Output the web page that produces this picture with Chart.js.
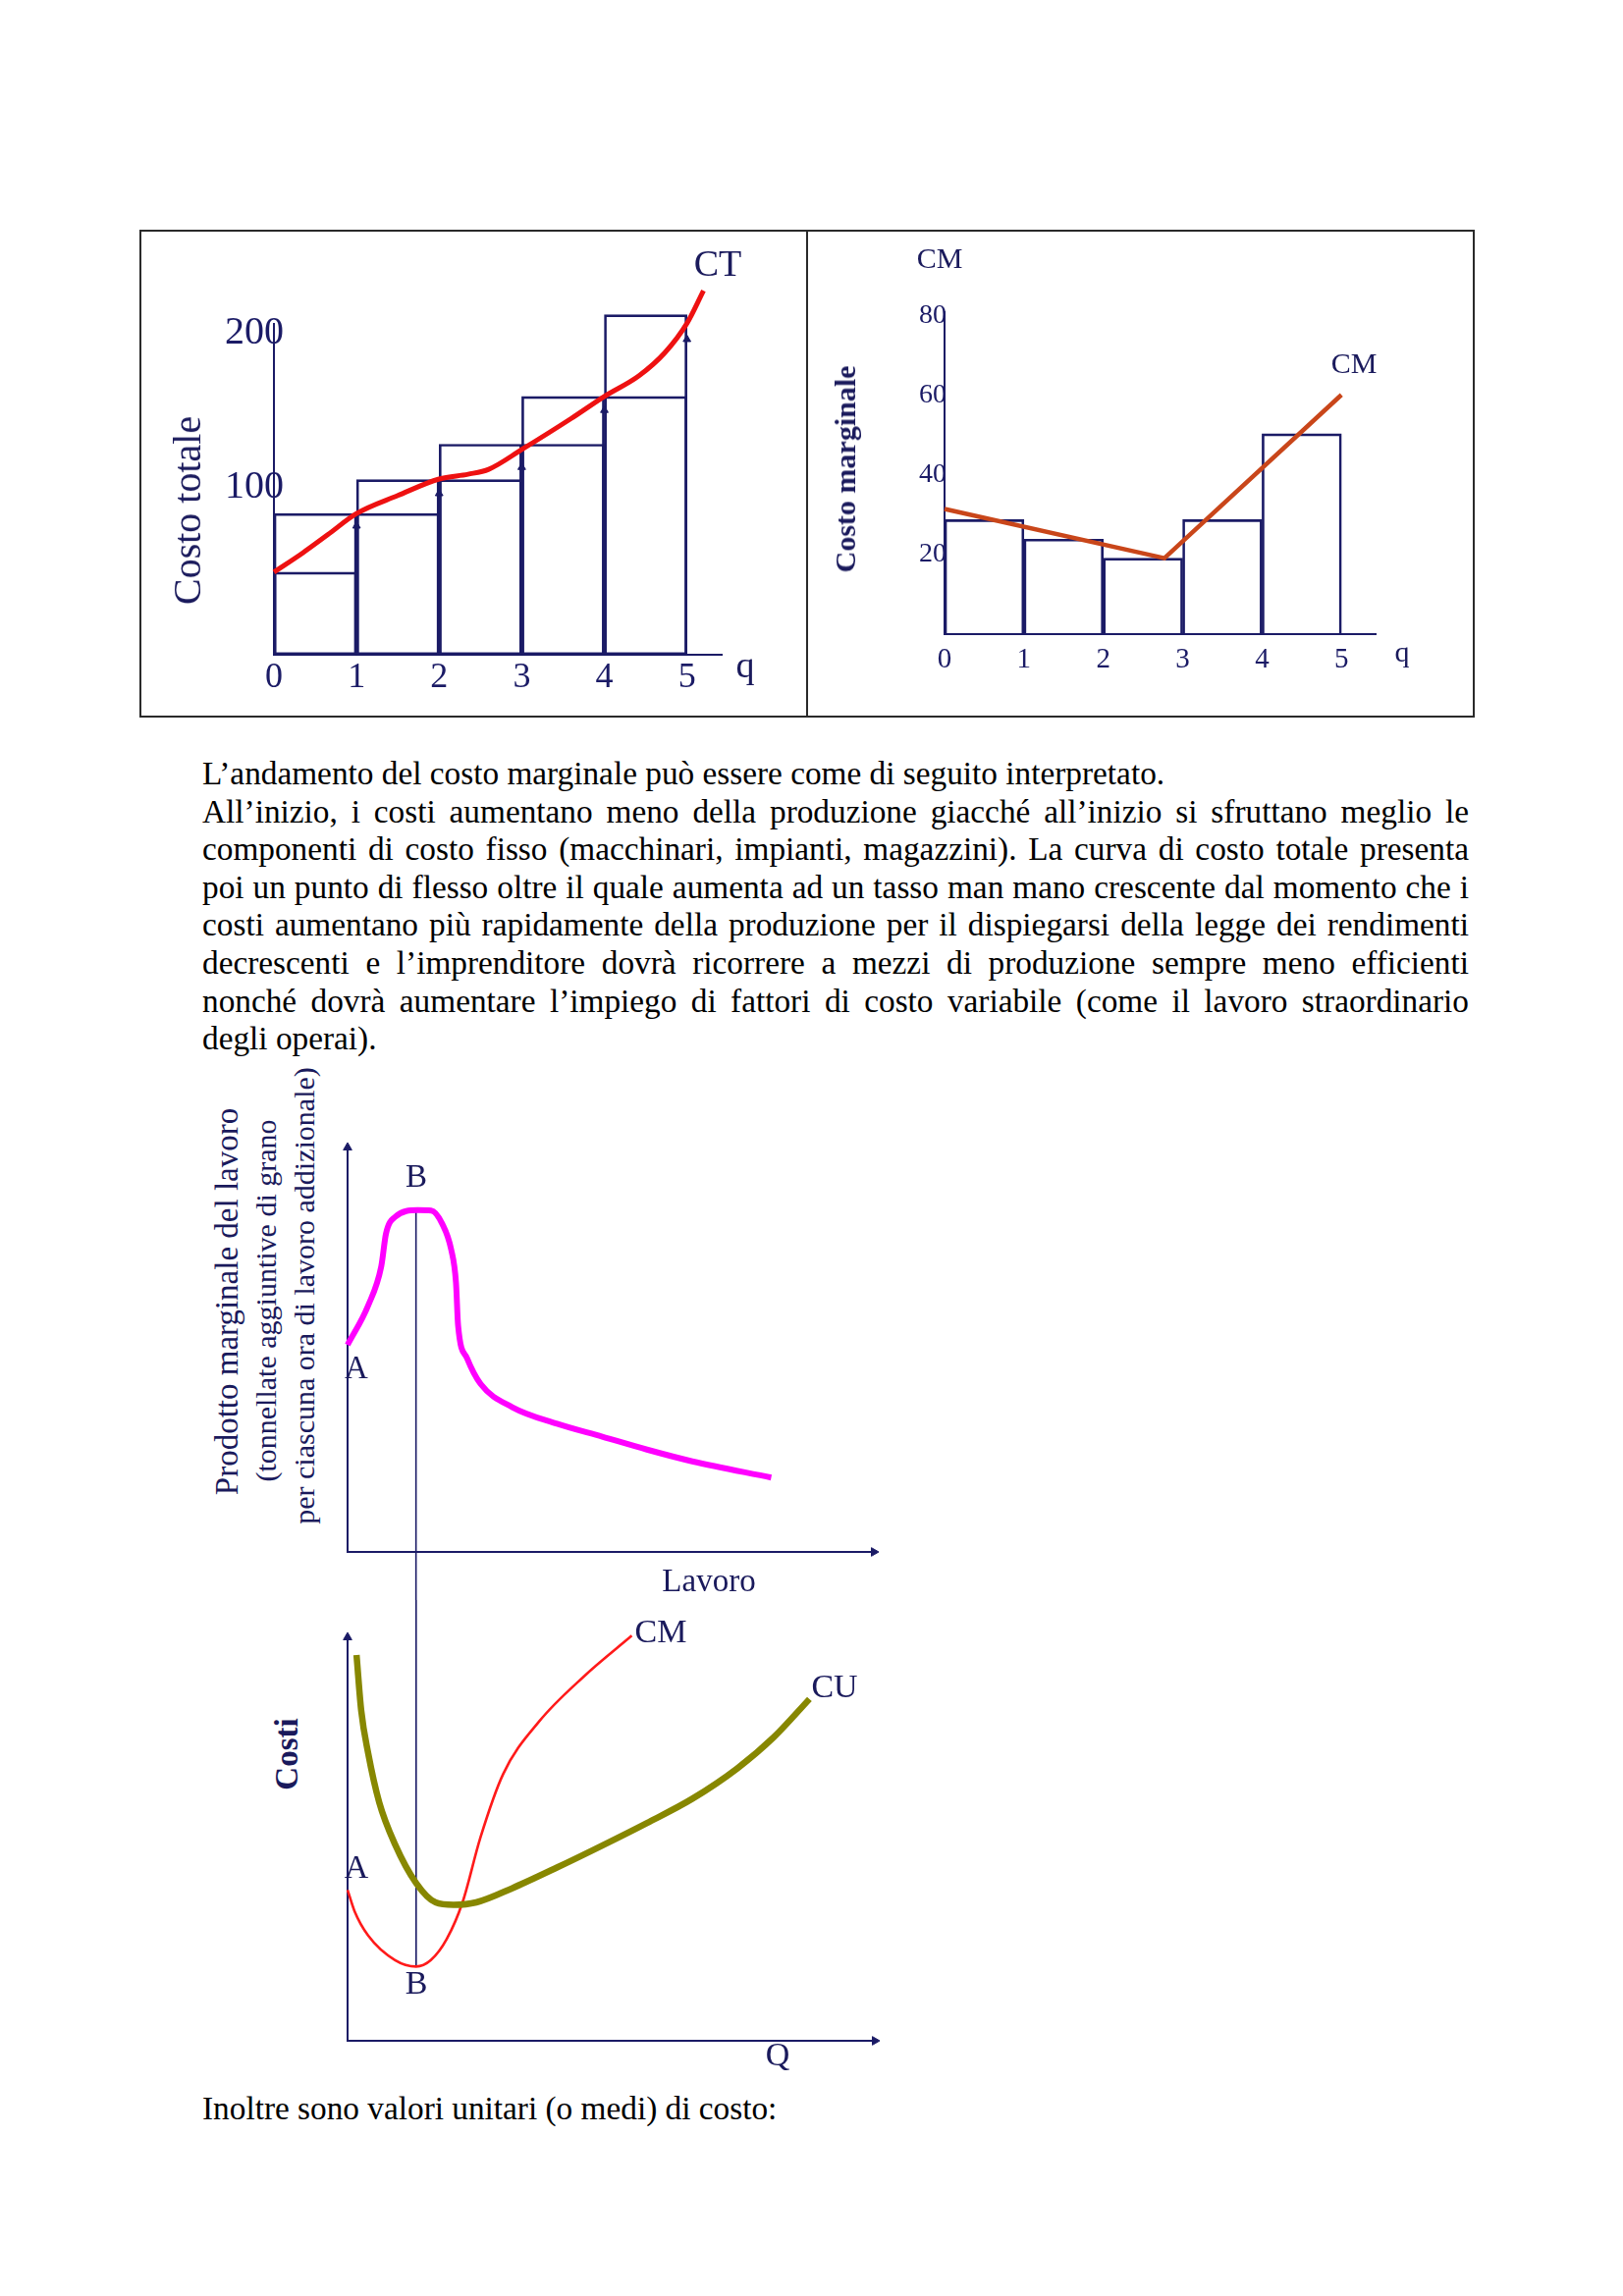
<!DOCTYPE html>
<html><head><meta charset="utf-8">
<script src="https://cdn.jsdelivr.net/npm/chart.js@4.4.1/dist/chart.umd.min.js"></script>
<style>
html,body{margin:0;padding:0;background:#fff;}
body{width:1653px;height:2339px;position:relative;overflow:hidden;font-family:"Liberation Serif","Times New Roman",serif;}
canvas{position:absolute;}
.lbl{position:absolute;transform:translate(-50%,-50%);white-space:nowrap;color:#1a1a5c;font-family:"Liberation Serif",serif;line-height:1;}
.rot{transform:translate(-50%,-50%) rotate(-90deg);}
.b{font-weight:bold;}
.boxline{position:absolute;background:#2a2a2a;}
.para{position:absolute;left:206px;width:1290px;font-size:33.3px;line-height:38.6px;color:#000;font-family:"Liberation Serif",serif;}
.para div{white-space:nowrap;}
.j{text-align:justify;text-align-last:justify;}
</style></head>
<body>
<div class="boxline" style="left:142px;top:234px;width:1360px;height:2px;"></div>
<div class="boxline" style="left:142px;top:729px;width:1360px;height:2px;"></div>
<div class="boxline" style="left:142px;top:234px;width:2px;height:497px;"></div>
<div class="boxline" style="left:1500px;top:234px;width:2px;height:497px;"></div>
<div class="boxline" style="left:821px;top:234px;width:2px;height:497px;"></div>

<canvas id="c1" width="678" height="493" style="left:143px;top:236px;width:678px;height:493px;"></canvas>
<canvas id="c2" width="677" height="493" style="left:823px;top:236px;width:677px;height:493px;"></canvas>
<canvas id="c3" width="580" height="480" style="left:330px;top:1150px;width:580px;height:480px;"></canvas>
<canvas id="c4" width="580" height="480" style="left:330px;top:1630px;width:580px;height:480px;"></canvas>

<div class="lbl rot" style="left:191px;top:520px;font-size:40px;">Costo totale</div>
<div class="lbl" style="left:731px;top:268px;font-size:38px;">CT</div>
<div class="lbl" style="left:759px;top:677px;font-size:38px;">q</div>
<div class="lbl" style="left:957px;top:263px;font-size:30px;">CM</div>
<div class="lbl" style="left:1379px;top:370px;font-size:30px;">CM</div>
<div class="lbl" style="left:1428px;top:664px;font-size:30px;">q</div>
<div class="lbl rot b" style="left:861px;top:478px;font-size:30px;">Costo marginale</div>

<div class="para" style="top:769px;">
<div>L’andamento del costo marginale può essere come di seguito interpretato.</div>
<div class="j">All’inizio, i costi aumentano meno della produzione giacché all’inizio si sfruttano meglio le</div>
<div class="j">componenti di costo fisso (macchinari, impianti, magazzini). La curva di costo totale presenta</div>
<div class="j">poi un punto di flesso oltre il quale aumenta ad un tasso man mano crescente dal momento che i</div>
<div class="j">costi aumentano più rapidamente della produzione per il dispiegarsi della legge dei rendimenti</div>
<div class="j">decrescenti e l’imprenditore dovrà ricorrere a mezzi di produzione sempre meno efficienti</div>
<div class="j">nonché dovrà aumentare l’impiego di fattori di costo variabile (come il lavoro straordinario</div>
<div>degli operai).</div>
</div>

<div class="lbl rot" style="left:231px;top:1326px;font-size:33px;">Prodotto marginale del lavoro</div>
<div class="lbl rot" style="left:271px;top:1325px;font-size:30px;">(tonnellate aggiuntive di grano</div>
<div class="lbl rot" style="left:310px;top:1320px;font-size:30px;">per ciascuna ora di lavoro addizionale)</div>
<div class="lbl" style="left:424px;top:1198px;font-size:33px;">B</div>
<div class="lbl" style="left:363px;top:1393px;font-size:33px;">A</div>
<div class="lbl" style="left:722px;top:1610px;font-size:33px;">Lavoro</div>
<div class="lbl rot b" style="left:292px;top:1787px;font-size:33px;">Costi</div>
<div class="lbl" style="left:673px;top:1662px;font-size:34px;">CM</div>
<div class="lbl" style="left:850px;top:1718px;font-size:34px;">CU</div>
<div class="lbl" style="left:363px;top:1902px;font-size:34px;">A</div>
<div class="lbl" style="left:424px;top:2020px;font-size:34px;">B</div>
<div class="lbl" style="left:792px;top:2093px;font-size:34px;">Q</div>

<div class="para" style="top:2129px;"><div>Inoltre sono valori unitari (o medi) di costo:</div></div>

<script>
// ---------- DATA ----------
// Chart 1: costo totale (CT)
const qValues = [0, 1, 2, 3, 4, 5];
const qLabels = ['0', '1', '2', '3', '4', '5'];
const ctTickValues = [100, 200];
const ctTickLabels = ['100', '200'];
const ctBefore = [45, 83, 105, 128, 159];     // rect [i,i+1] at CT(i)
const ctAfter = [83, 105, 128, 159, 212];     // rect [i,i+1] at CT(i+1)
const ctArrowTips = [75, 96, 113, 150, 196];  // arrow heads at q = 1..5
const ctCurveQ = [0, 0.35, 0.65, 1, 1.5, 2, 2.35, 2.6, 3, 3.6, 4, 4.42, 4.73, 5, 5.2];
const ctCurveV = [45, 57.5, 69.2, 83, 94.7, 105.4, 108.5, 111.7, 124.5, 144.7, 159, 172.4, 187.2, 206.4, 227.6];

// Chart 2: costo marginale (CM)
const cmTickValues = [20, 40, 60, 80];
const cmTickLabels = ['20', '40', '60', '80'];
const cmBars = [28.8, 23.9, 19.1, 28.8, 50.4];
const cmLineQ = [0, 2.77, 5];
const cmLineV = [31.5, 19.1, 60.2];

// Chart 3: prodotto marginale del lavoro
const mplX = [0, 0.39, 0.64, 0.73, 0.90, 1.33, 1.59, 1.80, 1.97, 2.06, 2.10, 2.27, 2.53, 3.13, 3.98, 4.84, 5.69, 6.55, 8.05];
const mplY = [5.12, 6.09, 7.06, 7.87, 8.28, 8.45, 8.44, 8.11, 7.47, 6.66, 5.60, 4.79, 4.15, 3.58, 3.17, 2.85, 2.53, 2.24, 1.84];
const bLineX = [1.3, 1.3];
const bLineTopY = [8.45, -3];

// Chart 4: costi (CM e CU)
const cuX = [0.17, 0.26, 0.39, 0.60, 0.90, 1.30, 1.67, 2.01, 2.44, 3.12, 3.98, 4.83, 5.68, 6.54, 7.39, 8.08, 8.76];
const cuY = [9.56, 8.17, 7.13, 5.91, 4.87, 3.91, 3.43, 3.37, 3.43, 3.78, 4.30, 4.84, 5.40, 6.00, 6.75, 7.52, 8.47];
const cm2X = [0, 0.13, 0.39, 0.90, 1.30, 1.58, 1.88, 2.18, 2.52, 2.95, 3.63, 4.49, 5.39];
const cm2Y = [3.74, 3.22, 2.61, 2.00, 1.84, 2.00, 2.52, 3.43, 5.04, 6.61, 7.91, 9.04, 10.04];
const bLineBottomY = [11, 1.87];

// ---------- STYLE ----------
const NAVY = '#1b1b66';
const CT_MIN = -8.6;
const pts = (xs, ys) => xs.map((x, i) => ({x, y: ys[i]}));

const tickText = {
  id: 'tickText',
  afterDraw(chart, args, o) {
    const ctx = chart.ctx, xs = chart.scales.x, ys = chart.scales.y;
    ctx.save();
    ctx.fillStyle = o.color;
    ctx.textBaseline = 'middle';
    ctx.font = o.xFont; ctx.textAlign = 'center';
    o.xValues.forEach((v, i) => ctx.fillText(o.xLabels[i], xs.getPixelForValue(v) + o.xDx, ys.bottom + o.xDy));
    ctx.font = o.yFont; ctx.textAlign = o.yAlign;
    o.yValues.forEach((v, i) => ctx.fillText(o.yLabels[i], xs.left + o.yDx, ys.getPixelForValue(v)));
    ctx.restore();
  }
};

const axisCommon = (min, max, ticks) => ({
  type: 'linear', min, max, offset: false,
  ticks: {display: false},
  grid: {display: false, drawTicks: false, offset: false},
  border: {display: true, color: NAVY, width: 2},
  afterBuildTicks: s => { s.ticks = ticks.map(v => ({value: v})); }
});
const baseOpts = {
  responsive: false, animation: false, maintainAspectRatio: false,
  events: [],
};

// ---------- CHART 1 ----------
new Chart(document.getElementById('c1'), {
  type: 'bar',
  data: {datasets: [
    {type: 'bar', data: ctBefore.map((v, i) => ({x: qValues[i] + 0.5, y: [CT_MIN, v]})),
     backgroundColor: 'rgba(0,0,0,0)', borderColor: NAVY, borderWidth: 2, borderSkipped: false,
     barPercentage: 1, categoryPercentage: 1, grouped: false, clip: false, order: 3},
    {type: 'bar', data: ctAfter.map((v, i) => ({x: qValues[i] + 0.5, y: [CT_MIN, v]})),
     backgroundColor: 'rgba(0,0,0,0)', borderColor: NAVY, borderWidth: 2, borderSkipped: false,
     barPercentage: 1, categoryPercentage: 1, grouped: false, clip: false, order: 3},
    {type: 'scatter', data: pts(qValues.slice(1), ctArrowTips), pointStyle: 'triangle', pointRadius: 4.5,
     backgroundColor: NAVY, borderColor: NAVY, borderWidth: 1, order: 2},
    {type: 'line', data: pts(ctCurveQ, ctCurveV), borderColor: '#ee1111', borderWidth: 5,
     pointRadius: 0, cubicInterpolationMode: 'monotone', clip: false, order: 1}
  ]},
  options: Object.assign({}, baseOpts, {
    layout: {padding: {left: 136, right: 86, top: 94, bottom: 62}},
    plugins: {legend: {display: false}, tooltip: {enabled: false},
      tickText: {color: NAVY, xFont: '36px "Liberation Serif"', xValues: qValues, xLabels: qLabels, xDx: 0, xDy: 24,
        yFont: '40px "Liberation Serif"', yValues: ctTickValues, yLabels: ctTickLabels, yAlign: 'center', yDx: -20}},
    scales: {x: axisCommon(0, 5.42, qValues), y: axisCommon(CT_MIN, 206, ctTickValues)}
  }),
  plugins: [tickText]
});

// ---------- CHART 2 ----------
new Chart(document.getElementById('c2'), {
  type: 'bar',
  data: {datasets: [
    {type: 'bar', data: cmBars.map((v, i) => ({x: qValues[i] + 0.5, y: v})),
     backgroundColor: 'rgba(0,0,0,0)', borderColor: NAVY, borderWidth: 2, borderSkipped: 'start',
     barPercentage: 1, categoryPercentage: 1, grouped: false, order: 2},
    {type: 'line', data: pts(cmLineQ, cmLineV), borderColor: '#c9461a', borderWidth: 4.5,
     pointRadius: 0, tension: 0, clip: false, order: 1}
  ]},
  options: Object.assign({}, baseOpts, {
    layout: {padding: {left: 139, right: 99, top: 82, bottom: 83}},
    plugins: {legend: {display: false}, tooltip: {enabled: false},
      tickText: {color: NAVY, xFont: '29px "Liberation Serif"', xValues: qValues, xLabels: qLabels, xDx: 0, xDy: 26,
        yFont: '28px "Liberation Serif"', yValues: cmTickValues, yLabels: cmTickLabels, yAlign: 'right', yDx: 2}},
    scales: {x: axisCommon(0, 5.43, qValues), y: axisCommon(0, 81, cmTickValues)}
  }),
  plugins: [tickText]
});

// ---------- CHART 3 ----------
const arrowHeads = [{x: 0, y: 10}, {x: 10, y: 0}];
new Chart(document.getElementById('c3'), {
  type: 'line',
  data: {datasets: [
    {data: pts(mplX, mplY), borderColor: '#ff00ff', borderWidth: 6, pointRadius: 0,
     cubicInterpolationMode: 'monotone', clip: false},
    {data: pts(bLineX, bLineTopY), borderColor: NAVY, borderWidth: 1.6, pointRadius: 0, clip: false},
    {type: 'scatter', data: arrowHeads, pointStyle: 'triangle', pointRadius: 5, rotation: [0, 90],
     backgroundColor: NAVY, borderColor: NAVY, clip: false}
  ]},
  options: Object.assign({}, baseOpts, {
    layout: {padding: {left: 24, right: 20, top: 19, bottom: 49}},
    plugins: {legend: {display: false}, tooltip: {enabled: false}},
    scales: {x: axisCommon(0, 10, [0, 10]), y: axisCommon(0, 10, [0, 10])}
  })
});

// ---------- CHART 4 ----------
new Chart(document.getElementById('c4'), {
  type: 'line',
  data: {datasets: [
    {data: pts(cuX, cuY), borderColor: '#878700', borderWidth: 6.5, pointRadius: 0,
     cubicInterpolationMode: 'monotone', clip: false},
    {data: pts(cm2X, cm2Y), borderColor: '#ff1a1a', borderWidth: 2.6, pointRadius: 0,
     cubicInterpolationMode: 'monotone', clip: false},
    {data: pts(bLineX, bLineBottomY), borderColor: NAVY, borderWidth: 1.6, pointRadius: 0, clip: false},
    {type: 'scatter', data: arrowHeads, pointStyle: 'triangle', pointRadius: 5, rotation: [0, 90],
     backgroundColor: NAVY, borderColor: NAVY, clip: false}
  ]},
  options: Object.assign({}, baseOpts, {
    layout: {padding: {left: 24, right: 19, top: 38, bottom: 31}},
    plugins: {legend: {display: false}, tooltip: {enabled: false}},
    scales: {x: axisCommon(0, 10, [0, 10]), y: axisCommon(0, 10, [0, 10])}
  })
});
</script>
</body></html>
